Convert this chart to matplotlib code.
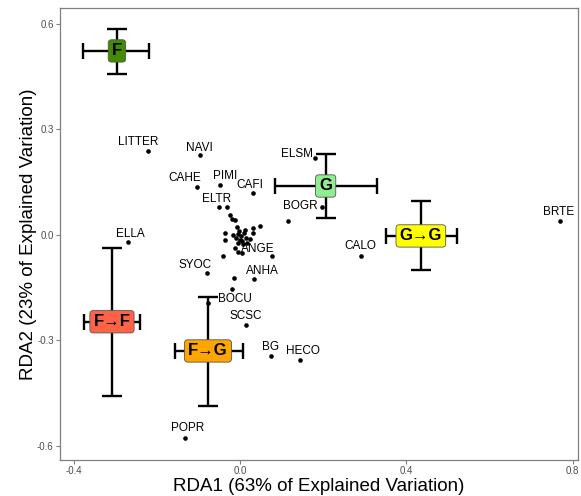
import numpy as np
import matplotlib.pyplot as plt

plt.rcParams['font.family'] = ['Liberation Sans', 'DejaVu Sans']

# species scores (labelled)
sp_names = ["LITTER", "NAVI", "CAHE", "PIMI", "CAFI", "ELTR", "ELSM", "BOGR",
            "BRTE", "CALO", "ANGE", "ANHA", "SYOC", "ELLA", "BOCU", "SCSC",
            "BG", "HECO", "POPR"]
sp_x = [-0.222, -0.096, -0.103, -0.048, 0.031, -0.051, 0.180, 0.197,
        0.770, 0.291, 0.077, 0.034, -0.079, -0.269, -0.019, 0.014,
        0.075, 0.144, -0.132]
sp_y = [0.238, 0.227, 0.137, 0.142, 0.119, 0.080, 0.219, 0.080,
        0.040, -0.060, -0.060, -0.125, -0.108, -0.020, -0.154, -0.256,
        -0.344, -0.355, -0.577]
# label offsets in pixels (dx, dy) relative to the point
lab_dx = [-10, -1, -12, 5, -3, -2, -18, -22, -2, -1, -14, 8, -12, 2, 3, 0, -1, 3, 2]
lab_dy = [9, 7, 9, 9, 8, 8, 4, 1, 9, 10, 7, 8, 8, 8, -10, 9, 9, 9, 10]

# species scores (unlabelled cluster)
un_x = [-0.031, -0.024, -0.019, -0.012, -0.007, 0.012, 0.031, 0.048, -0.036,
        -0.017, -0.005, 0.002, 0.010, 0.000, 0.014, -0.005, 0.007, -0.010,
        0.017, 0.031, 0.024, -0.036, -0.012, -0.005, 0.005, -0.041, -0.014,
        0.115, -0.077, 0.004, -0.002]
un_y = [0.080, 0.057, 0.045, 0.043, 0.023, 0.014, 0.020, 0.026, 0.006,
        0.000, 0.003, -0.003, 0.006, -0.014, -0.009, -0.023, -0.026, -0.009,
        -0.023, 0.006, -0.011, -0.014, -0.037, -0.048, -0.051, -0.060, -0.122,
        0.040, -0.193, -0.017, 0.010]

# group centroids with error bars
grp = ["F", "G", "G\u2192G", "F\u2192F", "F\u2192G"]
grp_x = [-0.296, 0.206, 0.435, -0.308, -0.077]
grp_y = [0.523, 0.139, -0.003, -0.247, -0.330]
grp_xlo = [-0.378, 0.084, 0.351, -0.375, -0.156]
grp_xhi = [-0.219, 0.329, 0.522, -0.240, 0.007]
grp_ylo = [0.458, 0.048, -0.100, -0.458, -0.486]
grp_yhi = [0.586, 0.230, 0.097, -0.037, -0.176]
grp_col = ["#458B00", "#90EE90", "#FFFF00", "#FF6347", "#FFA500"]

fig = plt.figure(figsize=(5.81, 4.96), dpi=100)
ax = fig.add_axes([60 / 581, 1 - 460 / 496, 518 / 581, 452 / 496])

ax.scatter(sp_x + un_x, sp_y + un_y, s=11, color="black", zorder=2, linewidths=0)
for n, x, y, dx, dy in zip(sp_names, sp_x, sp_y, lab_dx, lab_dy):
    ax.annotate(n, (x, y), xytext=(dx, dy), textcoords="offset pixels",
                ha="center", va="center", fontsize=8.5, zorder=3)

for i in range(len(grp)):
    x, y = grp_x[i], grp_y[i]
    ax.errorbar(x, y, xerr=[[x - grp_xlo[i]], [grp_xhi[i] - x]], fmt="none",
                ecolor="black", elinewidth=1.7, capsize=6, capthick=1.7, zorder=4)
    ax.errorbar(x, y, yerr=[[y - grp_ylo[i]], [grp_yhi[i] - y]], fmt="none",
                ecolor="black", elinewidth=1.7, capsize=7, capthick=1.7, zorder=4)
    ax.text(x, y, grp[i], ha="center", va="center", fontsize=12, fontweight="bold",
            zorder=5,
            bbox=dict(boxstyle="round,pad=0.22,rounding_size=0.2",
                      facecolor=grp_col[i], edgecolor="#555555", linewidth=0.6))

ax.set_xlim(-0.433, 0.813)
ax.set_ylim(-0.640, 0.645)
ax.set_xticks([-0.4, 0.0, 0.4, 0.8])
ax.set_xticklabels(["-0.4", "0.0", "0.4", "0.8"])
ax.set_yticks([-0.6, -0.3, 0.0, 0.3, 0.6])
ax.set_yticklabels(["-0.6", "-0.3", "0.0", "0.3", "0.6"])
ax.tick_params(colors="#7f7f7f", labelcolor="#4d4d4d", labelsize=7, length=3,
               width=0.8, pad=1.5)
for s in ax.spines.values():
    s.set_color("#7f7f7f")
    s.set_linewidth(0.9)

ax.set_xlabel("RDA1 (63% of Explained Variation)", fontsize=13.5, labelpad=1)
ax.set_ylabel("RDA2 (23% of Explained Variation)", fontsize=13.5, labelpad=0)

fig.savefig("out.png", dpi=100)
